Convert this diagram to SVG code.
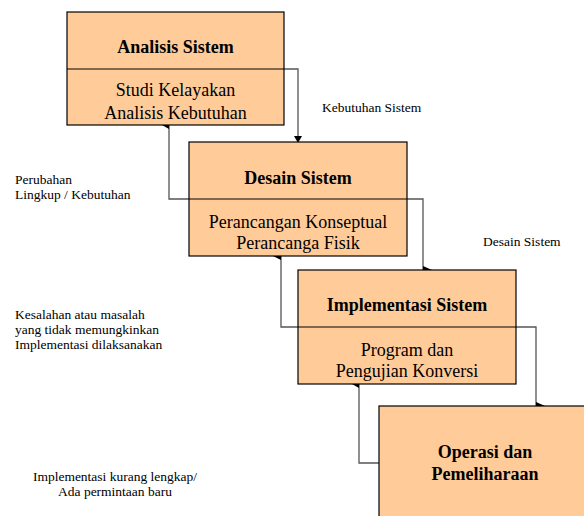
<svg xmlns="http://www.w3.org/2000/svg" width="584" height="516" viewBox="0 0 584 516" font-family="'Liberation Serif', 'Times New Roman', Times, serif">
<style>
.box{fill:#FFCC99;stroke:#000;stroke-width:1.2}
.div{stroke:#000;stroke-width:1.2}
.con{fill:none;stroke:#555;stroke-width:1.3}
.ah{fill:#000}
text{font-family:'Liberation Serif','Times New Roman',Times,serif;fill:#000}
.t{font-size:18px;font-weight:bold;text-anchor:middle}
.b{font-size:18px;text-anchor:middle}
.l{font-size:13.5px}
</style>
<rect width="584" height="516" fill="#fff"/>
<g id="connectors">
<polyline class="con" points="284,69 298,69 298,137"/>
<polyline class="con" points="189,199 169,199 169,125"/>
<polyline class="con" points="407,199 423,199 423,270"/>
<polyline class="con" points="298,327 281,327 281,256"/>
<polyline class="con" points="516,327 536,327 536,406"/>
<polyline class="con" points="379,463 359,463 359,384"/>
<polygon class="ah" points="294,136 302,136 298,143"/>
<polygon class="ah" points="162,125 169,121 169,129"/>
<polygon class="ah" points="273,256 281,252 281,260"/>
<polygon class="ah" points="432,270 423,266 423,274"/>
<polygon class="ah" points="352,384 359,380 359,388"/>
<polygon class="ah" points="545,406 536,402 536,410"/>
</g>
<g id="analisis">
<rect class="box" x="67" y="12" width="217" height="113"/>
<line class="div" x1="67" y1="69" x2="284" y2="69"/>
<text class="t" x="175.5" y="53">Analisis Sistem</text>
<text class="b" x="175.5" y="96">Studi Kelayakan</text>
<text class="b" x="175.5" y="119">Analisis Kebutuhan</text>
</g>
<g id="desain">
<rect class="box" x="189" y="142" width="218" height="114"/>
<line class="div" x1="189" y1="199" x2="407" y2="199"/>
<text class="t" x="298" y="184">Desain Sistem</text>
<text class="b" x="298" y="228">Perancangan Konseptual</text>
<text class="b" x="298" y="249">Perancanga Fisik</text>
</g>
<g id="implementasi">
<rect class="box" x="298" y="270" width="218" height="114"/>
<line class="div" x1="298" y1="327" x2="516" y2="327"/>
<text class="t" x="407" y="311">Implementasi Sistem</text>
<text class="b" x="407" y="356">Program dan</text>
<text class="b" x="407" y="377">Pengujian Konversi</text>
</g>
<g id="operasi">
<rect class="box" x="379" y="406" width="215" height="120"/>
<text class="t" x="485" y="458">Operasi dan</text>
<text class="t" x="485" y="480">Pemeliharaan</text>
</g>
<g id="labels">
<text class="l" x="322" y="112">Kebutuhan Sistem</text>
<text class="l" x="483" y="246">Desain Sistem</text>
<text class="l" x="15" y="184">Perubahan</text>
<text class="l" x="15" y="199">Lingkup / Kebutuhan</text>
<text class="l" x="15" y="319">Kesalahan atau masalah</text>
<text class="l" x="15" y="334">yang tidak memungkinkan</text>
<text class="l" x="15" y="349">Implementasi dilaksanakan</text>
<text class="l" x="115" y="481" text-anchor="middle">Implementasi kurang lengkap/</text>
<text class="l" x="115" y="496" text-anchor="middle">Ada permintaan baru</text>
</g>
</svg>
